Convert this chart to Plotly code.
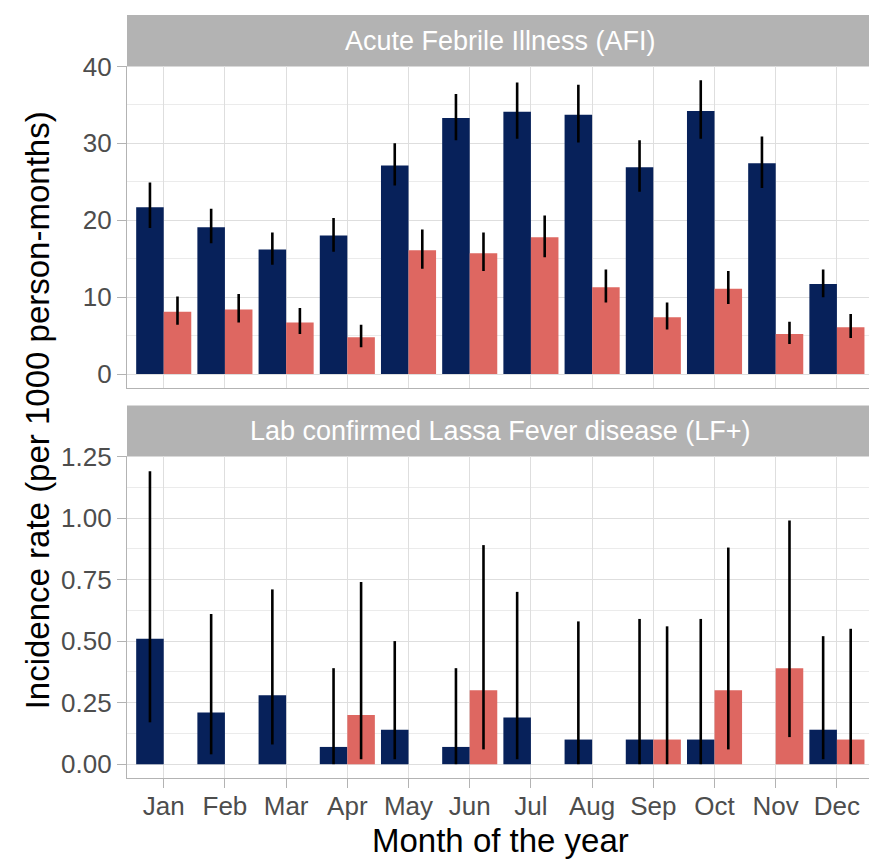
import plotly.graph_objects as go

months = ["Jan", "Feb", "Mar", "Apr", "May", "Jun", "Jul", "Aug", "Sep", "Oct", "Nov", "Dec"]
month_pos = list(range(1, 13))

# Acute Febrile Illness (AFI) panel
afi_blue = [21.7, 19.1, 16.2, 18.0, 27.1, 33.3, 34.1, 33.7, 26.9, 34.2, 27.4, 11.7]
afi_blue_lo = [19.0, 17.0, 14.2, 15.9, 24.5, 30.4, 30.6, 30.1, 23.7, 30.6, 24.2, 10.0]
afi_blue_hi = [24.9, 21.5, 18.4, 20.3, 30.0, 36.4, 37.9, 37.6, 30.4, 38.2, 30.9, 13.6]
afi_red = [8.1, 8.4, 6.7, 4.8, 16.1, 15.7, 17.8, 11.3, 7.4, 11.1, 5.2, 6.1]
afi_red_lo = [6.4, 6.7, 5.2, 3.5, 13.7, 13.4, 15.2, 9.3, 5.8, 9.1, 3.9, 4.7]
afi_red_hi = [10.1, 10.4, 8.6, 6.4, 18.8, 18.4, 20.6, 13.6, 9.3, 13.4, 6.8, 7.8]

# Lab confirmed Lassa Fever disease (LF+) panel
lf_blue = [0.51, 0.21, 0.28, 0.07, 0.14, 0.07, 0.19, 0.10, 0.10, 0.10, None, 0.14]
lf_blue_lo = [0.17, 0.04, 0.08, 0.0, 0.02, 0.0, 0.02, 0.0, 0.0, 0.0, None, 0.02]
lf_blue_hi = [1.19, 0.61, 0.71, 0.39, 0.50, 0.39, 0.70, 0.58, 0.59, 0.59, None, 0.52]
lf_red = [None, None, None, 0.20, None, 0.30, None, None, 0.10, 0.30, 0.39, 0.10]
lf_red_lo = [None, None, None, 0.02, None, 0.06, None, None, 0.0, 0.06, 0.11, 0.0]
lf_red_hi = [None, None, None, 0.74, None, 0.89, None, None, 0.56, 0.88, 0.99, 0.55]

BLUE = "#07215A"
RED = "#DE6761"
FONT = "Liberation Sans, Arial, sans-serif"
TICK_COLOR = "#4D4D4D"


def errs(v, lo, hi):
    plus = [None if a is None else h - a for a, h in zip(v, hi)]
    minus = [None if a is None else a - l for a, l in zip(v, lo)]
    return plus, minus


def bar(v, lo, hi, color, xa, ya):
    p, m = errs(v, lo, hi)
    return go.Bar(
        x=month_pos, y=v, marker=dict(color=color, line=dict(width=0)),
        error_y=dict(type="data", array=p, arrayminus=m, symmetric=False,
                     color="black", thickness=2.6, width=0),
        xaxis=xa, yaxis=ya, showlegend=False, hoverinfo="skip")


fig = go.Figure()
fig.add_trace(bar(afi_blue, afi_blue_lo, afi_blue_hi, BLUE, "x2", "y2"))
fig.add_trace(bar(afi_red, afi_red_lo, afi_red_hi, RED, "x2", "y2"))
fig.add_trace(bar(lf_blue, lf_blue_lo, lf_blue_hi, BLUE, "x", "y"))
fig.add_trace(bar(lf_red, lf_red_lo, lf_red_hi, RED, "x", "y"))

W, H = 869, 859
L, R, T, B = 127, 0, 6, 81
plot_h = H - T - B
STEP = 61.2


def py(px):
    return (H - B - px) / plot_h


x_range = [0.4, 0.4 + (W - L) / STEP]
grid_major = "#DEDEDE"
grid_minor = "#EBEBEB"
border = "#B3B3B3"

common_x = dict(range=x_range, tickvals=month_pos, ticktext=months, showgrid=True,
                gridcolor=grid_major, gridwidth=1.2, zeroline=False,
                showline=True, linecolor=border, linewidth=1.2)
common_y = dict(showgrid=True, gridcolor=grid_major, gridwidth=1.2, zeroline=False,
                showline=True, linecolor=border, linewidth=1.2,
                ticks="outside", ticklen=9, tickcolor=border, tickwidth=1.2,
                tickfont=dict(size=26, color=TICK_COLOR))

fig.update_layout(
    width=W, height=H, margin=dict(l=L, r=R, t=T, b=B),
    paper_bgcolor="white", plot_bgcolor="white",
    barmode="group", bargap=0.1, bargroupgap=0,
    font=dict(family=FONT, color=TICK_COLOR, size=20),
    xaxis=dict(**common_x, anchor="y", ticks="outside", ticklen=9, tickcolor=border,
               tickwidth=1.2, tickfont=dict(size=26, color=TICK_COLOR),
               ticklabelstandoff=-4),
    xaxis2=dict(**common_x, anchor="y2", matches="x", showticklabels=False, ticks=""),
    yaxis=dict(**common_y, domain=[0, py(452.7)], range=[-0.0562, 1.25],
               tickvals=[0, 0.25, 0.5, 0.75, 1.0, 1.25],
               ticktext=["0.00", "0.25", "0.50", "0.75", "1.00", "1.25"],
               minor=dict(tickvals=[0.125, 0.375, 0.625, 0.875, 1.125], showgrid=True,
                          gridcolor=grid_minor, gridwidth=0.7, ticks=""),
               anchor="x"),
    yaxis2=dict(**common_y, domain=[py(383), py(58)], range=[-1.76, 40.0],
                tickvals=[0, 10, 20, 30, 40],
                minor=dict(tickvals=[5, 15, 25, 35], showgrid=True,
                           gridcolor=grid_minor, gridwidth=0.7, ticks=""),
                anchor="x2"),
)

panel_cx = ((L + (L + STEP * 12.2)) / 2 - L) / (W - L)

# Facet strips
for y0, y1, label in [(py(58), py(6), "Acute Febrile Illness (AFI)"),
                      (py(452.7), py(401), "Lab confirmed Lassa Fever disease (LF+)")]:
    fig.add_shape(type="rect", xref="paper", yref="paper", x0=0, x1=1.01, y0=y0, y1=y1,
                  fillcolor="#B3B3B3", line=dict(width=0), layer="below")
    fig.add_annotation(xref="paper", yref="paper", x=panel_cx, y=(y0 + y1) / 2,
                       text=label, showarrow=False, xanchor="center", yanchor="middle",
                       font=dict(family=FONT, size=27, color="white"))

# Axis titles
fig.add_annotation(xref="paper", yref="paper", x=panel_cx, y=py(841),
                   text="Month of the year", showarrow=False, xanchor="center",
                   yanchor="middle", font=dict(family=FONT, size=33, color="black"))
fig.add_annotation(xref="paper", yref="paper", x=(37 - L) / (W - L), y=py(406),
                   text="Incidence rate (per 1000 person-months)", showarrow=False,
                   textangle=-90, xanchor="center", yanchor="middle",
                   font=dict(family=FONT, size=33, color="black"))

fig.write_html("out.html", config={"displayModeBar": False},
               post_script="document.body.style.margin='0';document.body.style.overflow='hidden';")
